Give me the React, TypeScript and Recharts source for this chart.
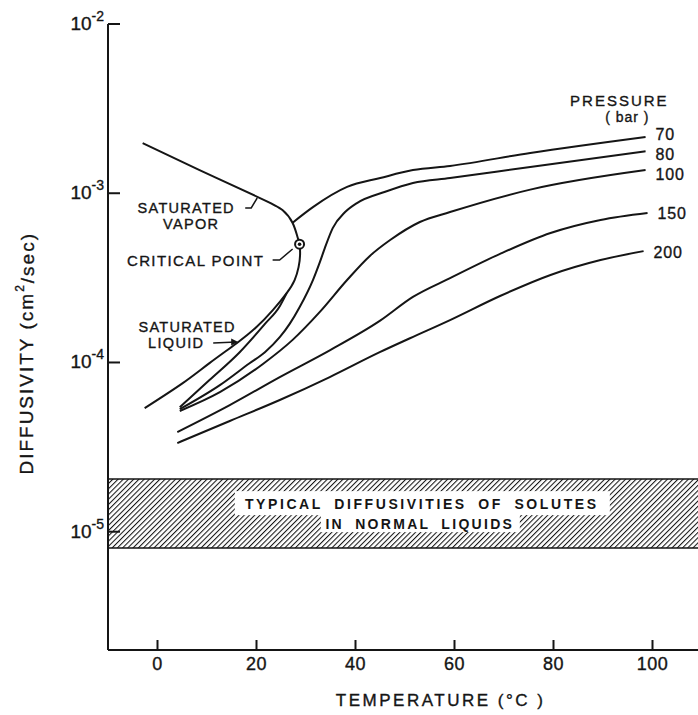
import React from 'react';
import { LineChart, Line, XAxis, YAxis, ReferenceArea, ReferenceDot } from 'recharts';

const FONT = '"Liberation Sans", Arial, Helvetica, sans-serif';
const INK = '#151515';

// Axes
const xDomain = [-10, 110];
const yDomain = [2e-6, 1e-2];
const xTicks = [0, 20, 40, 60, 80, 100];
const topTicks = [0, 100];
const yTicks = [1e-5, 1e-4, 1e-3, 1e-2];
const rightTicks = [1e-5, 1e-4, 1e-3];

// Saturation dome: vapor branch -> critical point -> liquid branch
const domeT = [-3.0, 8.5, 20.6, 25.3, 27.3, 28.3, 28.7, 28.8, 28.5, 27.7, 26.1, 23.3, 20.0, 16.0, 10.5, 5.1, -2.6];
const domeD = [1.98e-3, 1.37e-3, 9.4e-4, 7.94e-4, 6.67e-4, 5.5e-4, 5.0e-4, 4.3e-4, 3.66e-4, 3.07e-4, 2.57e-4, 2.04e-4, 1.62e-4, 1.3e-4, 9.91e-5, 7.55e-5, 5.37e-5];

// 70 bar (liquid branch and vapor branch)
const p70LiqT = [4.5, 10.5, 16.6, 21.7, 24.7, 26.1];
const p70LiqD = [5.44e-5, 7.87e-5, 1.15e-4, 1.69e-4, 2.15e-4, 2.57e-4];
const p70VapT = [27.3, 31.4, 38.3, 45.0, 51.6, 59.1, 75.3, 98.6];
const p70VapD = [6.7e-4, 8.28e-4, 1.09e-3, 1.23e-3, 1.37e-3, 1.45e-3, 1.73e-3, 2.15e-3];

// 80 bar
const p80T = [4.5, 12.6, 18.6, 21.7, 24.7, 26.7, 28.7, 31.4, 32.8, 33.8, 35.4, 37.9, 40.3, 46.0, 51.6, 59.1, 75.3, 98.6];
const p80D = [5.3e-5, 7.35e-5, 9.9e-5, 1.15e-4, 1.41e-4, 1.69e-4, 2.12e-4, 3.07e-4, 3.92e-4, 4.74e-4, 6.22e-4, 7.74e-4, 8.75e-4, 1.02e-3, 1.15e-3, 1.23e-3, 1.43e-3, 1.77e-3];

// 100 bar
const p100T = [4.5, 12.6, 21.3, 27.3, 32.8, 38.3, 42.9, 47.0, 53.0, 59.1, 75.3, 98.6];
const p100D = [5.17e-5, 6.68e-5, 9.8e-5, 1.36e-4, 1.99e-4, 3.07e-4, 4.26e-4, 5.29e-4, 6.76e-4, 7.74e-4, 1.05e-3, 1.37e-3];

// 150 bar
const p150T = [4.0, 14.6, 24.7, 34.8, 44.9, 51.6, 59.1, 69.2, 79.4, 89.5, 99.0];
const p150D = [3.88e-5, 5.6e-5, 8.2e-5, 1.18e-4, 1.76e-4, 2.44e-4, 3.15e-4, 4.38e-4, 5.82e-4, 6.95e-4, 7.64e-4];

// 200 bar
const p200T = [4.0, 14.6, 24.7, 34.8, 44.9, 51.0, 59.1, 69.2, 79.4, 89.5, 98.2];
const p200D = [3.34e-5, 4.51e-5, 6.0e-5, 8.2e-5, 1.15e-4, 1.39e-4, 1.78e-4, 2.47e-4, 3.29e-4, 4.03e-4, 4.55e-4];

const pressureLabels = ['70', '80', '100', '150', '200'];
const pressureLabelShift = [-2, 3, 4, 0, 1];

// Band of typical diffusivities in normal liquids
const bandLow = 8.0e-6;
const bandHigh = 2.05e-5;
const bandLines = ['TYPICAL DIFFUSIVITIES OF SOLUTES', 'IN NORMAL LIQUIDS'];

// Critical point
const criticalT = 28.7;
const criticalD = 5.0e-4;

// Annotation anchors (data coordinates)
const noteSatVapor = { t: 5.8, d: 8.18e-4 };
const noteCritical = { t: 7.7, d: 4.03e-4 };
const noteSatLiquid = { t: 6.0, d: 1.62e-4 };
const notePressure = { t: 93.3, d: 3.51e-3 };
const noteBand = { t: 53.4, d: 1.27e-5 };

const zip = (t: number[], d: number[]) => t.map((v, i) => ({ t: v, d: d[i] }));

const dome = zip(domeT, domeD);
const p70Liq = zip(p70LiqT, p70LiqD);
const p70Vap = zip(p70VapT, p70VapD);
const p80 = zip(p80T, p80D);
const p100 = zip(p100T, p100D);
const p150 = zip(p150T, p150D);
const p200 = zip(p200T, p200D);
const pressureEnds = [p70Vap, p80, p100, p150, p200].map((s) => s[s.length - 1]);

const txt = { fontFamily: FONT, fill: INK, stroke: INK, strokeWidth: 0.35 } as const;

const XTick = (props: any) => {
  const { x, y, payload } = props;
  return (
    <g>
      <line x1={x} y1={y} x2={x} y2={y - 10} stroke={INK} strokeWidth={2} />
      <text x={x} y={y + 20} textAnchor="middle" fontSize={18} letterSpacing={0.5} {...txt}>
        {payload.value}
      </text>
    </g>
  );
};

const TopTick = (props: any) => {
  const { x, y } = props;
  return <line x1={x} y1={y} x2={x} y2={y + 9} stroke={INK} strokeWidth={2} />;
};

const YTick = (props: any) => {
  const { x, y, payload } = props;
  const exp = Math.round(Math.log10(payload.value));
  return (
    <g>
      <line x1={x} y1={y} x2={x + 12} y2={y} stroke={INK} strokeWidth={2} />
      <text x={x - 4} y={y + 6} textAnchor="end" {...txt}>
        <tspan fontSize={19}>10</tspan>
        <tspan fontSize={14} dy={-9}>{'-' + Math.abs(exp)}</tspan>
      </text>
    </g>
  );
};

const RightTick = (props: any) => {
  const { x, y } = props;
  return <line x1={x} y1={y} x2={x - 9} y2={y} stroke={INK} strokeWidth={2} />;
};

const YLabel = (props: any) => {
  const vb = props.viewBox || { x: 8, y: 24, width: 100, height: 626 };
  const cx = vb.x + 19;
  const cy = vb.y + vb.height * 0.526;
  return (
    <text
      x={cx}
      y={cy}
      transform={`rotate(-90, ${cx}, ${cy})`}
      textAnchor="middle"
      dominantBaseline="central"
      fontSize={19}
      letterSpacing={2}
      {...txt}
    >
      DIFFUSIVITY (cm
      <tspan fontSize={12} dy={-7}>2</tspan>
      <tspan dy={7}>/sec)</tspan>
    </text>
  );
};

const XLabel = (props: any) => {
  const vb = props.viewBox || { x: 108, y: 650, width: 594, height: 65 };
  const cx = vb.x + vb.width * 0.56;
  const cy = vb.y + 50;
  return (
    <text x={cx} y={cy} textAnchor="middle" dominantBaseline="central" fontSize={17} letterSpacing={2.5} {...txt}>
      TEMPERATURE (°C )
    </text>
  );
};

const SatVaporShape = (p: any) => {
  const { cx, cy } = p;
  return (
    <g>
      <text x={cx} y={cy} textAnchor="middle" dominantBaseline="central" fontSize={14.5} letterSpacing={1.3} {...txt}>SATURATED</text>
      <text x={cx + 5} y={cy + 16} textAnchor="middle" dominantBaseline="central" fontSize={14.5} letterSpacing={1.3} {...txt}>VAPOR</text>
      <polyline points={`${cx + 59},${cy} ${cx + 65},${cy} ${cx + 71},${cy - 10}`} fill="none" stroke={INK} strokeWidth={1.5} />
    </g>
  );
};

const CriticalNoteShape = (p: any) => {
  const { cx, cy } = p;
  return (
    <g>
      <text x={cx} y={cy} textAnchor="middle" dominantBaseline="central" fontSize={15} letterSpacing={1.4} {...txt}>CRITICAL POINT</text>
      <polyline points={`${cx + 77},${cy} ${cx + 84},${cy} ${cx + 97},${cy - 11}`} fill="none" stroke={INK} strokeWidth={1.5} />
    </g>
  );
};

const SatLiquidShape = (p: any) => {
  const { cx, cy } = p;
  const ax1 = cx + 26;
  const ax2 = cx + 49;
  const ay = cy + 16;
  return (
    <g>
      <text x={cx} y={cy} textAnchor="middle" dominantBaseline="central" fontSize={14.5} letterSpacing={1.3} {...txt}>SATURATED</text>
      <text x={cx - 11} y={cy + 16} textAnchor="middle" dominantBaseline="central" fontSize={14.5} letterSpacing={1.3} {...txt}>LIQUID</text>
      <line x1={ax1} y1={ay} x2={ax2} y2={ay - 1} stroke={INK} strokeWidth={1.5} />
      <polygon points={`${ax2 + 2},${ay - 1} ${ax2 - 5},${ay - 4.5} ${ax2 - 5},${ay + 2.5}`} fill={INK} />
    </g>
  );
};

const PressureShape = (p: any) => {
  const { cx, cy } = p;
  return (
    <g>
      <text x={cx} y={cy} textAnchor="middle" dominantBaseline="central" fontSize={15} letterSpacing={2} {...txt}>PRESSURE</text>
      <text x={cx + 8} y={cy + 16} textAnchor="middle" dominantBaseline="central" fontSize={14} letterSpacing={1} {...txt}>( bar )</text>
    </g>
  );
};

const CriticalShape = (p: any) => {
  const { cx, cy } = p;
  return (
    <g>
      <circle cx={cx} cy={cy} r={4.5} fill="#fff" stroke={INK} strokeWidth={2} />
      <circle cx={cx} cy={cy} r={1.8} fill={INK} />
    </g>
  );
};

const BandTextShape = (p: any) => {
  const { cx, cy } = p;
  return (
    <g>
      <rect x={cx - 187} y={cy - 23} width={375} height={24} fill="#fff" />
      <rect x={cx - 101} y={cy} width={199} height={18} fill="#fff" />
      <text x={cx} y={cy - 10} textAnchor="middle" dominantBaseline="central" fontSize={14} fontWeight="bold" letterSpacing={2.6} wordSpacing={5} fontFamily={FONT} fill={INK}>
        {bandLines[0]}
      </text>
      <text x={cx - 2} y={cy + 10} textAnchor="middle" dominantBaseline="central" fontSize={14} fontWeight="bold" letterSpacing={2.3} wordSpacing={5} fontFamily={FONT} fill={INK}>
        {bandLines[1]}
      </text>
    </g>
  );
};

const makeEndLabel = (label: string, shift: number) => (p: any) => {
  const { cx, cy } = p;
  return (
    <text x={cx + 10} y={cy + shift} dominantBaseline="central" fontSize={16} letterSpacing={0.8} {...txt}>
      {label}
    </text>
  );
};

const lineCommon = {
  dataKey: 'd',
  stroke: INK,
  strokeWidth: 2,
  dot: false,
  activeDot: false,
  isAnimationActive: false,
} as const;

export default function App() {
  return (
    <div style={{ position: 'absolute', left: 0, top: 0, width: 698, height: 715, overflow: 'hidden', background: '#fff' }}>
      <LineChart width={720} height={715} margin={{ top: 24, right: 18, bottom: 0, left: 8 }}>
        <defs>
          <pattern id="hatch" patternUnits="userSpaceOnUse" width={3.7} height={10} patternTransform="rotate(45)">
            <rect x={0} y={0} width={3.7} height={10} fill="#fff" />
            <line x1={0} y1={0} x2={0} y2={10} stroke={INK} strokeWidth={2.1} />
          </pattern>
        </defs>
        <XAxis
          dataKey="t"
          type="number"
          domain={xDomain}
          ticks={xTicks}
          allowDataOverflow
          height={65}
          tickSize={0}
          tickMargin={0}
          tickLine={false}
          tick={<XTick />}
          axisLine={{ stroke: INK, strokeWidth: 2 }}
          label={<XLabel />}
        />
        <XAxis
          xAxisId="top"
          orientation="top"
          dataKey="t"
          type="number"
          domain={xDomain}
          ticks={topTicks}
          allowDataOverflow
          height={0}
          tickSize={0}
          tickMargin={0}
          tickLine={false}
          tick={<TopTick />}
          axisLine={{ stroke: INK, strokeWidth: 2 }}
        />
        <YAxis
          type="number"
          scale="log"
          domain={yDomain}
          ticks={yTicks}
          allowDataOverflow
          width={100}
          tickSize={0}
          tickMargin={0}
          tickLine={false}
          tick={<YTick />}
          axisLine={{ stroke: INK, strokeWidth: 2 }}
          label={<YLabel />}
        />
        <YAxis
          yAxisId="right"
          orientation="right"
          type="number"
          scale="log"
          domain={yDomain}
          ticks={rightTicks}
          allowDataOverflow
          width={0}
          tickSize={0}
          tickMargin={0}
          tickLine={false}
          tick={<RightTick />}
          axisLine={{ stroke: INK, strokeWidth: 2 }}
        />
        <ReferenceArea
          x1={xDomain[0]}
          x2={xDomain[1]}
          y1={bandLow}
          y2={bandHigh}
          fill="url(#hatch)"
          fillOpacity={1}
          stroke={INK}
          strokeWidth={1.5}
        />
        <ReferenceDot x={noteBand.t} y={noteBand.d} r={0} shape={BandTextShape} />

        <Line data={dome} type="natural" {...lineCommon} />
        <Line data={p70Liq} type="monotone" {...lineCommon} />
        <Line data={p70Vap} type="monotone" {...lineCommon} />
        <Line data={p80} type="monotone" {...lineCommon} />
        <Line data={p100} type="monotone" {...lineCommon} />
        <Line data={p150} type="monotone" {...lineCommon} />
        <Line data={p200} type="monotone" {...lineCommon} />

        {pressureEnds.map((pt, i) => (
          <ReferenceDot key={pressureLabels[i]} x={pt.t} y={pt.d} r={0} shape={makeEndLabel(pressureLabels[i], pressureLabelShift[i])} />
        ))}
        <ReferenceDot x={notePressure.t} y={notePressure.d} r={0} shape={PressureShape} />
        <ReferenceDot x={noteSatVapor.t} y={noteSatVapor.d} r={0} shape={SatVaporShape} />
        <ReferenceDot x={noteCritical.t} y={noteCritical.d} r={0} shape={CriticalNoteShape} />
        <ReferenceDot x={noteSatLiquid.t} y={noteSatLiquid.d} r={0} shape={SatLiquidShape} />
        <ReferenceDot x={criticalT} y={criticalD} r={4.5} shape={CriticalShape} />
      </LineChart>
    </div>
  );
}
